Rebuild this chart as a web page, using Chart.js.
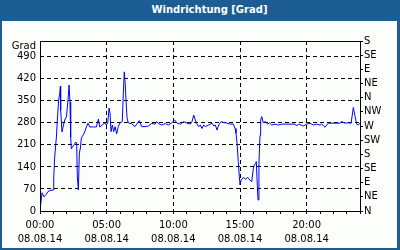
<!DOCTYPE html>
<html><head><meta charset="utf-8">
<script src="https://cdn.jsdelivr.net/npm/chart.js@4.4.1/dist/chart.umd.min.js"></script>
<style>
html,body{margin:0;padding:0;background:#1c5e94;}
#wrap{position:relative;width:400px;height:250px;background:#1c5e94;overflow:hidden;}
#title{position:absolute;left:0;top:0;width:400px;height:21px;font:bold 10px "DejaVu Sans";line-height:20px;text-align:center;color:#fff;padding-left:19px;box-sizing:border-box;}
#panel{position:absolute;left:2px;top:21px;width:395px;height:227px;background:#fcfefc;}
canvas{position:absolute;left:0;top:0;}
</style></head>
<body><div id="wrap"><div id="title">Windrichtung [Grad]</div><div id="panel"></div><canvas id="c" width="400" height="250"></canvas></div>
<script>
const hours = [0.05,0.15,0.3,0.45,0.6,0.75,0.98,1.03,1.1,1.23,1.3,1.4,1.48,1.53,1.55,1.65,1.73,1.85,1.98,2.1,2.18,2.25,2.3,2.35,2.43,2.55,2.68,2.75,2.8,2.88,2.95,3.03,3.1,3.23,3.35,3.48,3.6,3.73,4.0,4.23,4.3,4.38,4.48,4.6,4.73,4.85,4.98,5.08,5.18,5.25,5.33,5.42,5.53,5.63,5.75,5.87,6.0,6.17,6.25,6.32,6.38,6.45,6.53,6.62,6.88,7.13,7.25,7.45,7.63,7.88,8.12,8.38,8.63,8.75,8.87,9.13,9.38,9.62,9.88,10.1,10.28,10.52,10.78,11.03,11.27,11.4,11.53,11.65,11.78,11.9,12.02,12.15,12.28,12.4,12.65,12.9,13.03,13.15,13.28,13.4,13.6,13.78,14.03,14.27,14.5,14.63,14.7,14.78,14.87,14.95,15.0,15.08,15.25,15.43,15.58,15.75,15.88,16.0,16.08,16.18,16.22,16.3,16.35,16.42,16.5,16.55,16.63,16.75,16.88,17.08,17.2,17.38,17.63,17.87,18.13,18.6,19.13,19.25,19.37,19.58,19.75,20.0,20.25,20.5,20.75,21.0,21.13,21.38,21.5,21.62,22.13,22.5,22.63,22.88,23.12,23.33,23.42,23.5,23.63,23.75,23.87,24.0];
const degrees = [20,58,45,52,62,65,67,105,171,235,289,352,374,397,321,251,267,289,299,352,400,346,235,197,203,210,219,216,108,67,184,200,232,241,251,267,279,267,267,267,279,292,267,270,276,280,273,280,327,311,252,273,252,268,245,268,280,284,374,442,411,352,295,280,277,268,276,287,268,268,270,278,276,284,278,273,278,273,280,289,279,276,284,279,276,284,305,289,276,268,273,262,273,268,273,279,270,273,257,273,284,281,279,276,276,262,247,215,157,109,83,98,107,101,107,98,93,136,146,151,157,80,35,150,240,289,300,280,284,276,280,273,276,273,276,276,276,270,276,273,270,276,279,273,276,273,276,266,273,279,279,279,284,279,280,279,305,329,300,276,273,279];
const leftTicks = [0,70,140,210,280,350,420,490];
const dirTicks = [0,45,90,135,180,225,270,315,360,405,450,495,540];
const dirLabels = ['N','NE','E','SE','S','SW','W','NW','N','NE','E','SE','S'];
const hourTicks = [0,1,2,3,4,5,6,7,8,9,10,11,12,13,14,15,16,17,18,19,20,21,22,23,24];
const xLabelHours = [0,5,10,15,20];
const xLabelTimes = ['00:00','05:00','10:00','15:00','20:00'];
const dateLabel = '08.08.14';
const yUnit = 'Grad';

Chart.defaults.font.family = '"DejaVu Sans"';
Chart.defaults.font.size = 10;
Chart.defaults.color = '#000';

const framePlugin = {
  id: 'frame',
  afterDraw(chart) {
    const {ctx, chartArea: a} = chart;
    ctx.save();
    ctx.strokeStyle = '#000';
    ctx.lineWidth = 1;
    ctx.setLineDash([]);
    ctx.strokeRect(Math.round(a.left) + 0.5, Math.round(a.top) + 0.5, Math.round(a.right - a.left), Math.round(a.bottom - a.top));
    ctx.fillStyle = '#000';
    ctx.font = '10px "DejaVu Sans"';
    ctx.textAlign = 'right';
    ctx.textBaseline = 'middle';
    ctx.fillText(yUnit, a.left - 4, a.top + 5);
    ctx.restore();
  }
};

new Chart(document.getElementById('c'), {
  type: 'line',
  data: {
    datasets: [{
      data: hours.map((h, i) => ({x: h, y: degrees[i]})),
      borderColor: '#0000ff',
      borderWidth: 1,
      pointRadius: 0,
      tension: 0,
      fill: false
    }]
  },
  options: {
    responsive: false,
    animation: false,
    devicePixelRatio: 1,
    layout: {padding: {top: 41, left: 0, right: 0, bottom: 0}},
    plugins: {legend: {display: false}, tooltip: {enabled: false}},
    scales: {
      x: {
        type: 'linear', position: 'bottom', min: 0, max: 24,
        afterBuildTicks: s => { s.ticks = hourTicks.map(v => ({value: v})); },
        afterFit: s => { s.height = 39; },
        ticks: {
          autoSkip: false, maxRotation: 0, padding: 4,
          font: {size: 10, lineHeight: 1.4},
          callback: v => { const k = xLabelHours.indexOf(v); return k >= 0 ? [xLabelTimes[k], dateLabel] : ''; }
        },
        grid: {
          color: c => (c.tick && xLabelHours.includes(c.tick.value) && c.tick.value !== 0) ? '#000' : 'rgba(0,0,0,0)',
          tickColor: '#000', tickLength: 3, lineWidth: 1, drawTicks: true
        },
        border: {display: false, dash: [4, 3]}
      },
      y: {
        type: 'linear', position: 'left', min: 0, max: 540,
        afterBuildTicks: s => { s.ticks = leftTicks.map(v => ({value: v})); },
        afterFit: s => { s.width = 40; },
        ticks: {autoSkip: false, padding: 4, callback: v => String(v)},
        grid: {drawTicks: false, lineWidth: 1, color: c => (c.tick && c.tick.value > 0) ? '#000' : 'rgba(0,0,0,0)'},
        border: {display: false, dash: [4, 3]}
      },
      y2: {
        type: 'linear', position: 'right', min: 0, max: 540,
        afterBuildTicks: s => { s.ticks = dirTicks.map(v => ({value: v})); },
        afterFit: s => { s.width = 40; },
        ticks: {autoSkip: false, padding: 1, callback: (v, i) => dirLabels[i]},
        grid: {drawOnChartArea: false, drawTicks: true, tickLength: 3, tickColor: '#000'},
        border: {display: false}
      }
    }
  },
  plugins: [framePlugin]
});
</script>
</body></html>
